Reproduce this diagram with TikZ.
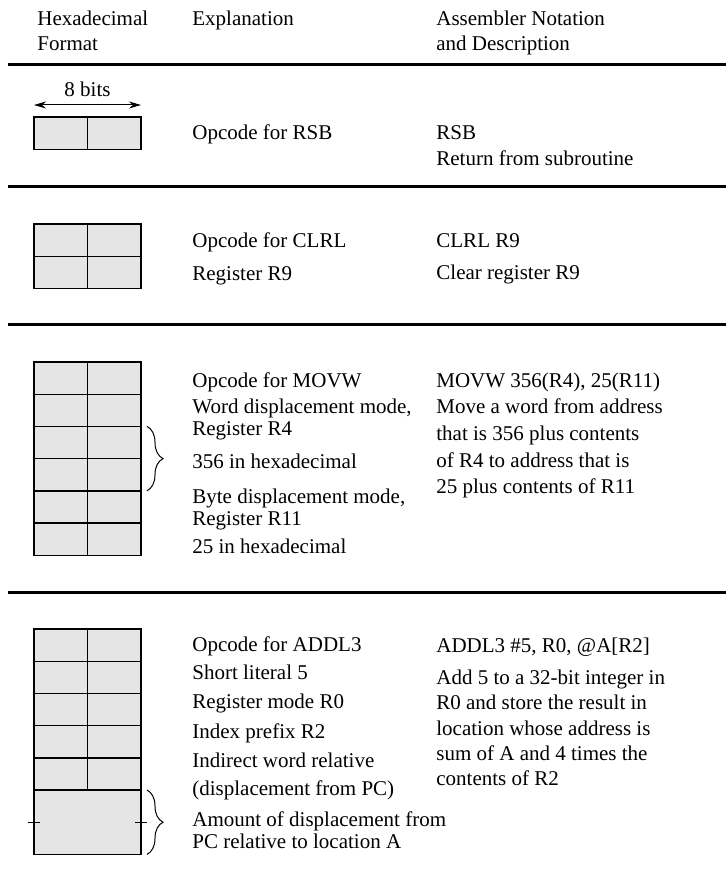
\documentclass[tikz,border=0pt]{standalone}
\usepackage{fontspec}
\setmainfont{Liberation Serif}
\usetikzlibrary{arrows.meta,positioning,decorations.pathreplacing}
\definecolor{cellgray}{gray}{0.9}

\begin{document}
\begin{tikzpicture}[x=0.5pt, y=-0.5pt, font=\fontsize{10.5}{12.6}\selectfont,
txt/.style={anchor=base west,inner sep=0pt,yshift=-1pt},
word/.style={draw,fill=cellgray,line width=0.7pt,inner sep=0pt,outer sep=0pt,minimum width=53.5pt,minimum height=16.1pt,
  path picture={\draw[line width=0.7pt] (path picture bounding box.north) -- (path picture bounding box.south);}},
wide/.style={draw,fill=cellgray,line width=0.7pt,inner sep=0pt,outer sep=0pt,minimum width=53.5pt,minimum height=32.2pt},
rule/.style={line width=1.5pt},
brc/.style={decorate,decoration={brace,amplitude=8pt},line width=0.5pt},
arr/.style={{Stealth[length=6pt,width=3.5pt]}-{Stealth[length=6pt,width=3.5pt]},line width=0.5pt}]
\useasboundingbox (0,0) rectangle (726,883);
% column heads
\node[txt] (hexhead) at (37,24) {Hexadecimal};
\node[txt] (fmthead) at (37,49) {Format};
\node[txt] (explhead) at (192,24) {Explanation};
\node[txt] (asmhead) at (436,24) {Assembler Notation};
\node[txt] (deschead) at (436,49) {and Description};
\draw[rule] (8,65) -- (726,65);
% RSB
\node[word,anchor=north] (rsb1) at (87.5,117) {};
\draw[arr] ([yshift=6pt]rsb1.north west) -- ([yshift=6pt]rsb1.north east)
  node[midway,above=4pt,inner sep=0pt] (bits) {8 bits};
\node[txt] (rsbop) at (192,138) {Opcode for RSB};
\node[txt] (rsbasm) at (436,138) {RSB};
\node[txt] (rsbdesc) at (436,163) {Return from subroutine};
\draw[rule] (8,186) -- (726,186);
% CLRL
\node[word,anchor=north] (clrl1) at (87.5,224) {};
\node[word,below=0pt of clrl1] (clrl2) {};
\node[txt] (clrlop) at (192,245) {Opcode for CLRL};
\node[txt] (clrlreg) at (192,278) {Register R9};
\node[txt] (clrlasm) at (436,245) {CLRL R9};
\node[txt] (clrldesc) at (436,277) {Clear register R9};
\draw[rule] (8,324) -- (726,324);
% MOVW
\node[word,anchor=north] (movw1) at (87.5,362) {};
\node[word,below=0pt of movw1] (movw2) {};
\node[word,below=0pt of movw2] (movw3) {};
\node[word,below=0pt of movw3] (movw4) {};
\node[word,below=0pt of movw4] (movw5) {};
\node[word,below=0pt of movw5] (movw6) {};
\draw[brc] ([xshift=3pt]movw3.north east) -- ([xshift=3pt]movw4.south east);
\node[txt] (movwop) at (192,385) {Opcode for MOVW};
\node[txt] (movwm1) at (192,411) {Word displacement mode,};
\node[txt] (movwr1) at (192,433) {Register R4};
\node[txt] (movwd1) at (192,466) {356 in hexadecimal};
\node[txt] (movwm2) at (192,501) {Byte displacement mode,};
\node[txt] (movwr2) at (192,523) {Register R11};
\node[txt] (movwd2) at (192,551) {25 in hexadecimal};
\node[txt] (movwasm) at (436,385) {MOVW 356(R4), 25(R11)};
\node[txt] (movwdesc1) at (436,411) {Move a word from address};
\node[txt] (movwdesc2) at (436,438) {that is 356 plus contents};
\node[txt] (movwdesc3) at (436,465) {of R4 to address that is};
\node[txt] (movwdesc4) at (436,491) {25 plus contents of R11};
\draw[rule] (8,592) -- (726,592);
% ADDL3
\node[word,anchor=north] (addl1) at (87.5,629) {};
\node[word,below=0pt of addl1] (addl2) {};
\node[word,below=0pt of addl2] (addl3) {};
\node[word,below=0pt of addl3] (addl4) {};
\node[word,below=0pt of addl4] (addl5) {};
\node[wide,below=0pt of addl5] (addl6) {};
\draw[line width=0.5pt] ([xshift=-3pt]addl6.west) -- ([xshift=3pt]addl6.west);
\draw[line width=0.5pt] ([xshift=-3pt]addl6.east) -- ([xshift=3pt]addl6.east);
\draw[brc] ([xshift=3pt]addl6.north east) -- ([xshift=3pt]addl6.south east);
\node[txt] (addlop) at (192,649) {Opcode for ADDL3};
\node[txt] (addllit) at (192,677) {Short literal 5};
\node[txt] (addlreg) at (192,706) {Register mode R0};
\node[txt] (addlidx) at (192,736) {Index prefix R2};
\node[txt] (addlind) at (192,765) {Indirect word relative};
\node[txt] (addlpc) at (192,793) {(displacement from PC)};
\node[txt] (addlamt1) at (192,824) {Amount of displacement from};
\node[txt] (addlamt2) at (192,846) {PC relative to location A};
\node[txt] (addlasm) at (436,650) {ADDL3 \#5, R0, @A[R2]};
\node[txt] (addldesc1) at (436,682) {Add 5 to a 32-bit integer in};
\node[txt] (addldesc2) at (436,707) {R0 and store the result in};
\node[txt] (addldesc3) at (436,733) {location whose address is};
\node[txt] (addldesc4) at (436,758) {sum of A and 4 times the};
\node[txt] (addldesc5) at (436,783) {contents of R2};
\end{tikzpicture}
\end{document}
